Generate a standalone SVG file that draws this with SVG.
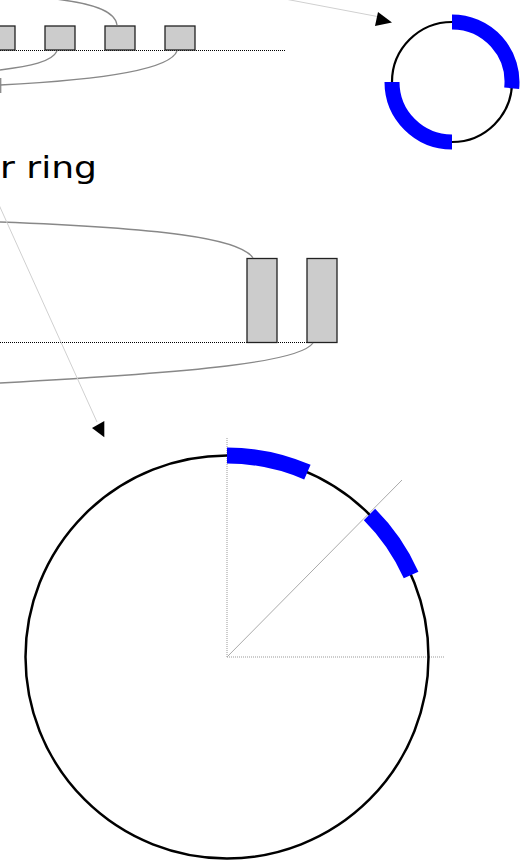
<svg xmlns="http://www.w3.org/2000/svg" width="530" height="862" viewBox="0 0 530 862">
<style>
.box{fill:#cccccc;stroke:#222;stroke-width:1.3}
.base{stroke:#000;stroke-width:1;stroke-dasharray:1,1;fill:none}
.curve{fill:none;stroke:#888;stroke-width:1.3}
.thin{fill:none;stroke:#d0d0d0;stroke-width:1}
.ring{fill:none;stroke:#000}
.blue{fill:none;stroke:#0000ff;stroke-linecap:butt}
.guide{fill:none;stroke:#999;stroke-width:1;stroke-dasharray:1,1}
.arrow{fill:#000}
.label{font-family:"DejaVu Sans",sans-serif;font-size:30px;fill:#000}
</style>
<rect width="530" height="862" fill="#fff"/>
<g id="top-row">
<line class="base" x1="0" y1="50.5" x2="285" y2="50.5"/>
<g id="box1"><rect class="box" x="-2" y="26" width="17" height="24"/></g>
<g id="box2"><rect class="box" x="45" y="26" width="30" height="24"/></g>
<g id="box3"><rect class="box" x="105" y="26" width="30" height="24"/></g>
<g id="box4"><rect class="box" x="165" y="26" width="30" height="24"/></g>
</g>
<g id="middle-row">
<line class="base" x1="0" y1="342.5" x2="337" y2="342.5"/>
<g id="boxA"><rect class="box" x="247" y="258.5" width="30" height="84"/></g>
<g id="boxB"><rect class="box" x="307" y="258.5" width="30" height="84"/></g>
</g>
<g id="title"><text class="label" x="0" y="178" textLength="97" lengthAdjust="spacingAndGlyphs">r ring</text></g>
<g id="small-ring">
<circle class="ring" cx="452" cy="82" r="60" stroke-width="2.2"/>
<path class="blue" stroke-width="15" d="M452,22 A60,60 0 0 1 511.67,88.27"/>
<path class="blue" stroke-width="15" d="M452,142 A60,60 0 0 1 392,82"/>
</g>
<g id="big-ring">
<line class="guide" x1="227" y1="657" x2="227" y2="438"/>
<line class="guide" x1="227" y1="657" x2="445" y2="657"/>
<line x1="227" y1="657" x2="402" y2="480" stroke="#aaa" stroke-width="1"/>
<circle class="ring" cx="227" cy="657" r="201.5" stroke-width="2.5"/>
<path class="blue" stroke-width="16" d="M227,455.5 A201.5,201.5 0 0 1 307.4,472.2"/>
<path class="blue" stroke-width="16" d="M369.5,514.5 A201.5,201.5 0 0 1 411.1,575.0"/>
</g>
<g id="connectors">
<path class="curve" d="M117,25 C115,10 90,3 55,-1"/>
<path class="curve" d="M57,51 C52,62 30,66 0,70"/>
<path class="curve" d="M177,51 C170,70 100,80 0,85"/>
<line x1="0.7" y1="78" x2="0.7" y2="93" stroke="#888" stroke-width="1.3"/>
<path class="curve" d="M253,258 C240,238 160,228 0,222"/>
<path class="curve" d="M313,343 C300,362 200,372 0,383"/>
<line class="thin" x1="285" y1="-1" x2="380" y2="17"/>
<polygon class="arrow" points="378,12 392,22.5 375,26"/>
<line class="thin" x1="-5" y1="196" x2="97" y2="422"/>
<polygon class="arrow" points="92,428 104.3,421 104.3,437.3"/>
</g>
</svg>
